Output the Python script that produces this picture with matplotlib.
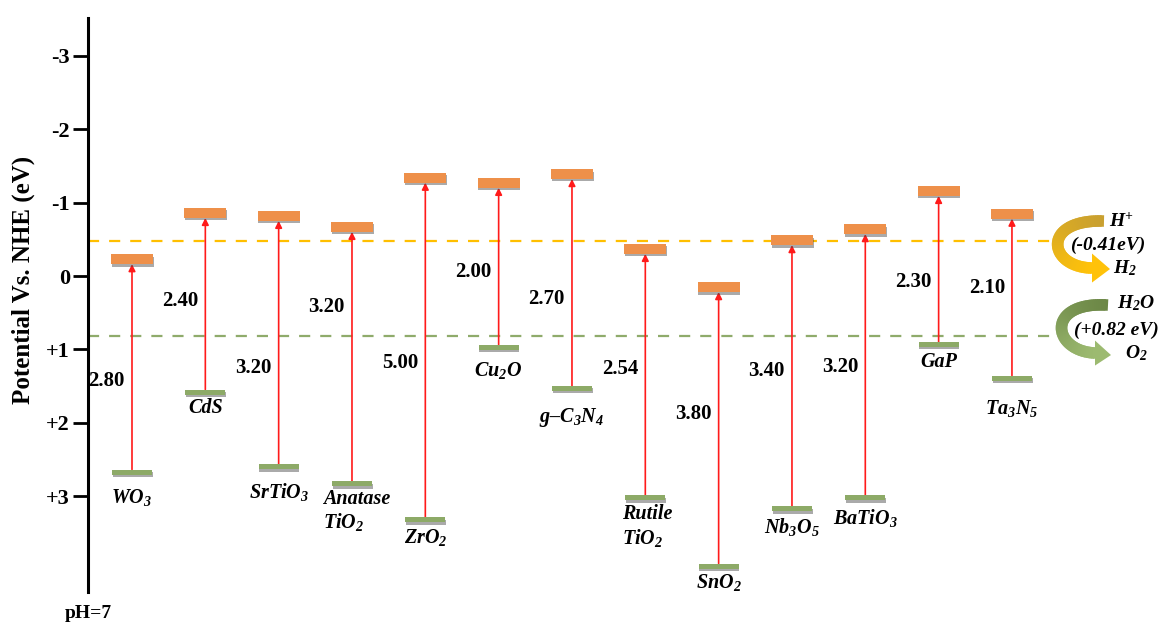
import numpy as np
import matplotlib
matplotlib.use("Agg")
import matplotlib.pyplot as plt
import matplotlib.patheffects as pe
from matplotlib.collections import LineCollection
from matplotlib.colors import to_rgb
from matplotlib.patches import Polygon

plt.rcParams['font.family'] = ['Liberation Serif', 'DejaVu Serif']
plt.rcParams['font.weight'] = 'bold'
plt.rcParams['mathtext.fontset'] = 'custom'
plt.rcParams['mathtext.rm'] = 'Liberation Serif:bold:italic'
plt.rcParams['mathtext.it'] = 'Liberation Serif:bold:italic'
plt.rcParams['mathtext.bf'] = 'Liberation Serif:bold:italic'

# band edges vs NHE (eV)
materials = ['WO$_3$', 'CdS', 'SrTiO$_3$', 'Anatase\nTiO$_2$', 'ZrO$_2$', 'Cu$_2$O',
             'g\u2013C$_3$N$_4$', 'Rutile\nTiO$_2$', 'SnO$_2$', 'Nb$_3$O$_5$',
             'BaTiO$_3$', 'GaP', 'Ta$_3$N$_5$']
cb = [-0.23, -0.86, -0.82, -0.67, -1.34, -1.27, -1.39, -0.37, 0.15, -0.49, -0.64, -1.16, -0.85]
vb = [2.67, 1.58, 2.60, 2.83, 3.32, 0.97, 1.53, 3.02, 3.95, 3.17, 3.02, 0.93, 1.39]
gaps = ['2.80', '2.40', '3.20', '3.20', '5.00', '2.00', '2.70', '2.54', '3.80', '3.40', '3.20', '2.30', '2.10']
gap_y = [1.43, 0.34, 1.25, 0.42, 1.19, -0.05, 0.31, 1.27, 1.88, 1.29, 1.24, 0.08, 0.16]

h2_level = -0.48   # H+/H2 line as drawn
o2_level = 0.82    # H2O/O2 line

yticks = [-3, -2, -1, 0, 1, 2, 3]
ytick_labels = ['-3', '-2', '-1', '0', '+1', '+2', '+3']

# layout: pixel gap between VB bar and name label
name_gap = [25, 16, 25, 27, 18, 23, 29, 29, 16, 18, 20, 18, 30]
name_dx = [0, 0, 0, -29, 0, 0, 0, -23, 0, 0, 0, 0, 0]

orange = '#EE904A'
green = '#8DAA67'

fig = plt.figure(figsize=(11.65, 6.23), dpi=100)
ax = fig.add_axes([88/1165, 1-591.7/623, 1-88/1165, (591.7-18)/623])

x = np.arange(len(materials))
ax.set_xlim(-0.6, 14.087)
ax.set_ylim(4.30, -3.515)

for s in ['top', 'right', 'bottom']:
    ax.spines[s].set_visible(False)
ax.spines['left'].set_linewidth(2.2)
ax.set_xticks([])
ax.set_yticks(yticks)
ax.set_yticklabels(ytick_labels, fontsize=16, fontweight='bold')
ax.tick_params(axis='y', length=11, width=2, pad=2)

# reference redox levels
ax.plot([-0.6, 12.55], [h2_level, h2_level], color='#FFBF00', lw=1.6, dashes=(5, 4.5))
ax.plot([-0.6, 12.55], [o2_level, o2_level], color='#8FAB6B', lw=1.6, dashes=(5, 4.5))

shadow = [pe.SimplePatchShadow(offset=(0.5, -1.8), shadow_rgbFace='#444444', alpha=0.45), pe.Normal()]
cb_h = 0.136
vb_h = 0.068
cbars = ax.bar(x, cb_h, bottom=np.array(cb) - cb_h/2, width=0.573, color=orange, zorder=3)
vbars = ax.bar(x, vb_h, bottom=np.array(vb) - vb_h/2, width=0.545, color=green, zorder=3)
for b in list(cbars) + list(vbars):
    b.set_path_effects(shadow)

for i in range(len(materials)):
    ax.annotate('', xy=(x[i], cb[i] + cb_h/2), xytext=(x[i], vb[i] - vb_h/2),
                arrowprops=dict(arrowstyle='-|>', color='#FF1A1A', lw=1.2,
                                mutation_scale=10, shrinkA=0, shrinkB=0), zorder=2)
    ax.annotate(gaps[i], xy=(x[i], gap_y[i]), xytext=(-7, 0), textcoords='offset pixels',
                ha='right', va='center', fontsize=15, fontweight='bold')
    two_line = '\n' in materials[i]
    ax.annotate(materials[i], xy=(x[i], vb[i]), xytext=(name_dx[i], -name_gap[i]),
                textcoords='offset pixels', ha='left' if two_line else 'center',
                va='center', fontsize=14.5, fontweight='bold', fontstyle='italic',
                linespacing=1.15)


# curved arrows for the water redox reactions (pixel-space shapes -> data)
def px2data(px, py):
    return (px - 132) / 73.33, (py - 276) / 73.4


def curl(pts, tip, head_half, c_start, c_end):
    p = np.array([px2data(*q) for q in pts])
    t = np.linspace(0, 1, 80)[:, None]
    bez = ((1-t)**3*p[0] + 3*(1-t)**2*t*p[1] + 3*(1-t)*t**2*p[2] + t**3*p[3])
    segs = [bez[k:k+3] for k in range(len(bez)-2)]
    c0, c1 = np.array(to_rgb(c_start)), np.array(to_rgb(c_end))
    cols = [c0 + (c1-c0)*k/(len(segs)-1) for k in range(len(segs))]
    lc = LineCollection(segs, colors=cols, linewidths=8.3, capstyle='butt', clip_on=False)
    ax.add_collection(lc)
    bx, by = pts[3]
    head = [px2data(bx-1, by-head_half), px2data(*tip), px2data(bx-1, by+head_half)]
    ax.add_patch(Polygon(head, closed=True, color=c_end, lw=0, clip_on=False))


curl([(1104, 221), (1040, 219), (1048, 268), (1093, 268)], (1110, 269), 14.5, '#C9A030', '#FFC20A')
curl([(1108, 305), (1044, 301), (1052, 352), (1096, 353)], (1111, 355), 12.5, '#6C8746', '#9CBA70')

tkw = dict(ha='center', va='center', fontsize=14, fontweight='bold', fontstyle='italic', clip_on=False)
ax.text(13.49, -0.74, 'H$^{+}$', **tkw)
ax.text(13.31, -0.42, '(-0.41eV)', **tkw)
ax.text(13.54, -0.11, 'H$_2$', **tkw)
ax.text(13.70, 0.37, 'H$_2$O', **tkw)
ax.text(13.43, 0.74, '(+0.82 eV)', **tkw)
ax.text(13.70, 1.05, 'O$_2$', **tkw)

fig.text(23/1165, 1-280/623, 'Potential Vs. NHE (eV)', rotation=90, ha='center', va='center',
         fontsize=18, fontweight='bold')
fig.text(88/1165, 1-613/623, 'pH=7', ha='center', va='center', fontsize=14, fontweight='bold')

fig.savefig('out.png', dpi=100)
